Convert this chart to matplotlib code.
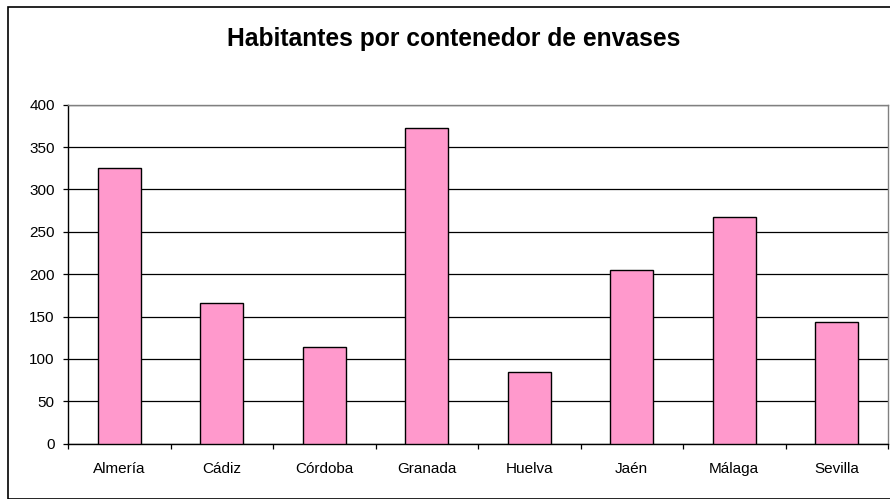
import matplotlib.pyplot as plt
import matplotlib.patches as mpatches
import numpy as np

provincias = ['Almería', 'Cádiz', 'Córdoba', 'Granada', 'Huelva', 'Jaén', 'Málaga', 'Sevilla']
habitantes = [325, 166, 114, 372, 85, 205, 267, 144]
y_ticks = [0, 50, 100, 150, 200, 250, 300, 350, 400]

plt.rcParams['font.family'] = ['Liberation Sans', 'DejaVu Sans']

fig = plt.figure(figsize=(8.9, 4.99), dpi=100)
ax = fig.add_axes([68 / 890, 1 - 443.7 / 499, 820 / 890, 339 / 499])

x = np.arange(len(provincias))
ax.bar(x, habitantes, width=0.42, color='#FF99CC', edgecolor='black', linewidth=1.0, zorder=3)

ax.set_xlim(-0.5, len(provincias) - 0.5)
ax.set_ylim(0, 400)
ax.set_yticks(y_ticks)
ax.yaxis.grid(True, color='black', linewidth=0.9, zorder=0)

# category labels centred, ticks at the category boundaries
ax.set_xticks(x)
ax.set_xticklabels(provincias, fontsize=11)
ax.tick_params(axis='x', which='major', length=0, pad=13)
ax.set_xticks(np.arange(len(provincias) + 1) - 0.5, minor=True)
ax.tick_params(axis='x', which='minor', length=3.5, width=0.9, direction='out')
ax.tick_params(axis='y', length=3.5, width=0.9, labelsize=11, pad=6)

for side in ['top', 'right']:
    ax.spines[side].set_color('#808080')
    ax.spines[side].set_linewidth(1.0)
for side in ['left', 'bottom']:
    ax.spines[side].set_color('black')
    ax.spines[side].set_linewidth(1.0)

fig.text(454 / 890, 1 - 46 / 499, 'Habitantes por contenedor de envases',
         ha='center', va='baseline', fontsize=17.7, fontweight='bold')

# outer chart border
fig.patches.append(mpatches.Rectangle((7.5 / 890, 0), 1, 1 - 6.5 / 499, transform=fig.transFigure,
                                      fill=False, edgecolor='black', linewidth=1.2))

fig.savefig('out.png', dpi=100)
